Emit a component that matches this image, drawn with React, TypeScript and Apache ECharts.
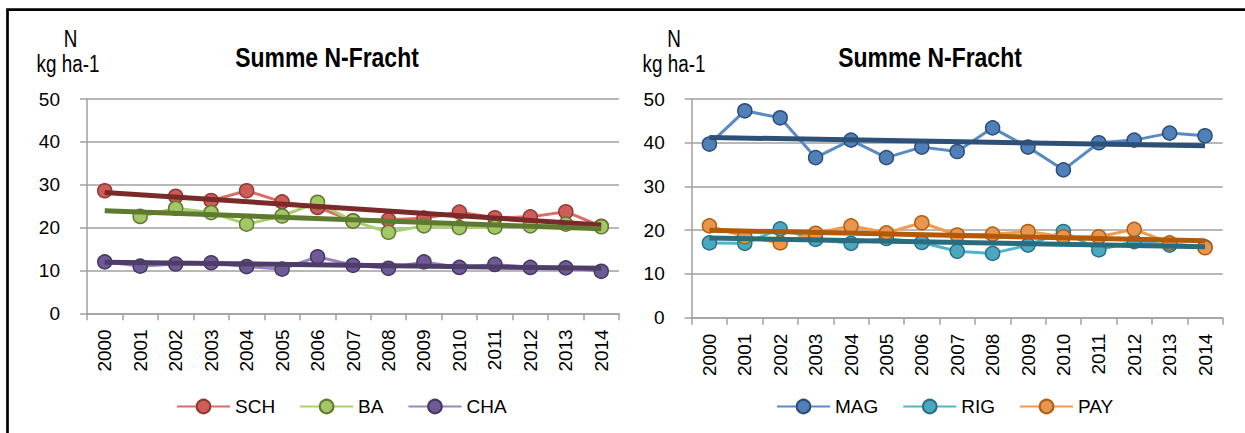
import React, { useEffect, useRef } from "react";
import * as echarts from "echarts";

const years = ["2000","2001","2002","2003","2004","2005","2006","2007","2008","2009","2010","2011","2012","2013","2014"];
const yTicks = { min: 0, max: 50, interval: 10 };

// left chart
const SCH = [28.6, null, 27.3, 26.3, 28.6, 26.0, 24.7, 21.6, 21.8, 22.2, 23.6, 22.3, 22.5, 23.7, 20.3];
const BA = [null, 22.6, 24.5, 23.5, 20.8, 22.7, 25.9, 21.5, 18.9, 20.4, 20.0, 20.1, 20.4, 20.8, 20.2];
const CHA = [12.0, 11.0, 11.5, 11.8, 10.9, 10.3, 13.2, 11.2, 10.5, 12.0, 10.7, 11.4, 10.7, 10.6, 9.8];
const SCH_trend = [28.2, 20.6];
const BA_trend = [23.9, 19.7];
const CHA_trend = [11.9, 10.5];

// right chart
const MAG = [39.7, 47.3, 45.7, 36.6, 40.6, 36.6, 39.0, 38.0, 43.4, 39.0, 33.8, 40.0, 40.6, 42.2, 41.6];
const RIG = [17.1, 17.0, 20.3, 17.9, 17.0, 18.1, 17.2, 15.2, 14.7, 16.6, 19.7, 15.5, 17.4, 16.6, 16.2];
const PAY = [21.0, 18.5, 17.1, 19.3, 21.0, 19.4, 21.7, 18.9, 19.1, 19.7, 18.5, 18.5, 20.2, 17.1, 16.0];
const MAG_trend = [41.2, 39.3];
const RIG_trend = [18.2, 16.2];
const PAY_trend = [20.0, 17.6];

const titleText = "Summe N-Fracht";
const unitLines = ["N", "kg ha-1"];

const FONT = '"Liberation Sans", Arial, sans-serif';
const FS = 19;

function dataSeries(name: string, data: (number | null)[], idx: number, line: string, fill: string, border: string) {
  return {
    name,
    type: "line",
    xAxisIndex: idx,
    yAxisIndex: idx,
    data,
    symbol: "circle",
    symbolSize: 14,
    connectNulls: false,
    lineStyle: { color: line, width: 3 },
    itemStyle: { color: fill, borderColor: border, borderWidth: 1.5 },
    z: 2,
  };
}

function trendSeries(name: string, ends: number[], idx: number, color: string) {
  return {
    name,
    type: "line",
    xAxisIndex: idx,
    yAxisIndex: idx,
    data: [[years[0], ends[0]], [years[years.length - 1], ends[1]]],
    symbol: "none",
    lineStyle: { color, width: 5 },
    itemStyle: { color },
    z: 3,
    silent: true,
  };
}

function xAxis(idx: number) {
  return {
    type: "category",
    gridIndex: idx,
    data: years,
    boundaryGap: true,
    axisLine: { lineStyle: { color: "#a0a0a0", width: 1.5 } },
    axisTick: { show: true, length: 7, lineStyle: { color: "#a0a0a0", width: 1.5 } },
    axisLabel: { rotate: 90, margin: 16, color: "#000", fontSize: FS, fontFamily: FONT, interval: 0 },
  };
}

function yAxis(idx: number) {
  return {
    type: "value",
    gridIndex: idx,
    ...yTicks,
    axisLine: { show: true, lineStyle: { color: "#a0a0a0", width: 1.5 } },
    axisTick: { show: true, length: 7, lineStyle: { color: "#a0a0a0", width: 1.5 } },
    splitLine: { show: true, lineStyle: { color: "#a0a0a0", width: 1.5 } },
    axisLabel: { margin: 27, color: "#000", fontSize: FS, fontFamily: FONT },
  };
}

export default function App() {
  const ref = useRef<HTMLDivElement>(null);
  useEffect(() => {
    if (!ref.current) return;
    const chart = echarts.init(ref.current, null, { renderer: "svg" });
    const txt = (x: number, y: number, text: string, bold: boolean, size: number, sx: number) => ({
      type: "text",
      x,
      y,
      scaleX: sx,
      style: {
        text,
        fill: "#000",
        font: `${bold ? "bold " : ""}${size}px ${FONT}`,
        textAlign: "center",
        textVerticalAlign: "middle",
      },
    });
    const legendBase = {
      top: 392,
      itemWidth: 53,
      itemHeight: 17,
      itemGap: 24,
      textStyle: { fontSize: FS, fontFamily: FONT, color: "#000" },
    };
    chart.setOption({
      animation: false,
      backgroundColor: "#fff",
      grid: [
        { left: 87, top: 99, width: 532, height: 214.3 },
        { left: 691.7, top: 99, width: 531, height: 218.7 },
      ],
      xAxis: [xAxis(0), xAxis(1)],
      yAxis: [yAxis(0), yAxis(1)],
      legend: [
        { ...legendBase, data: ["SCH", "BA", "CHA"], left: 171 },
        { ...legendBase, data: ["MAG", "RIG", "PAY"], left: 771 },
      ],
      graphic: [
        {
          type: "rect",
          shape: { x: 7.5, y: 9.7, width: 1400, height: 600 },
          style: { fill: "none", stroke: "#000", lineWidth: 2.7 },
          silent: true,
        },
        txt(327, 57, titleText, true, 27, 0.85),
        txt(930, 57, titleText, true, 27, 0.85),
        txt(70.5, 39, unitLines[0], false, 23, 0.82),
        txt(68, 64, unitLines[1], false, 23, 0.82),
        txt(674, 39, unitLines[0], false, 23, 0.82),
        txt(674, 64, unitLines[1], false, 23, 0.82),
      ],
      series: [
        dataSeries("SCH", SCH, 0, "#DB6B66", "#CF5C57", "#8E3A37"),
        dataSeries("BA", BA, 0, "#A9CF6E", "#A3C667", "#5F7A2E"),
        dataSeries("CHA", CHA, 0, "#9A84C2", "#6E5A96", "#46385F"),
        trendSeries("SCH trend", SCH_trend, 0, "#7A2B29"),
        trendSeries("BA trend", BA_trend, 0, "#5E7A30"),
        trendSeries("CHA trend", CHA_trend, 0, "#4D3D68"),
        dataSeries("MAG", MAG, 1, "#5A8AC4", "#5080BA", "#2D4D74"),
        dataSeries("RIG", RIG, 1, "#4FB3CC", "#4AA8C0", "#287084"),
        dataSeries("PAY", PAY, 1, "#F39A4C", "#E8954D", "#B25C10"),
        trendSeries("MAG trend", MAG_trend, 1, "#2E5077"),
        trendSeries("RIG trend", RIG_trend, 1, "#2A6C7D"),
        trendSeries("PAY trend", PAY_trend, 1, "#B35A09"),
      ],
    });
    return () => chart.dispose();
  }, []);
  return <div ref={ref} style={{ position: "fixed", left: 0, top: 0, width: 1245, height: 433 }} />;
}
